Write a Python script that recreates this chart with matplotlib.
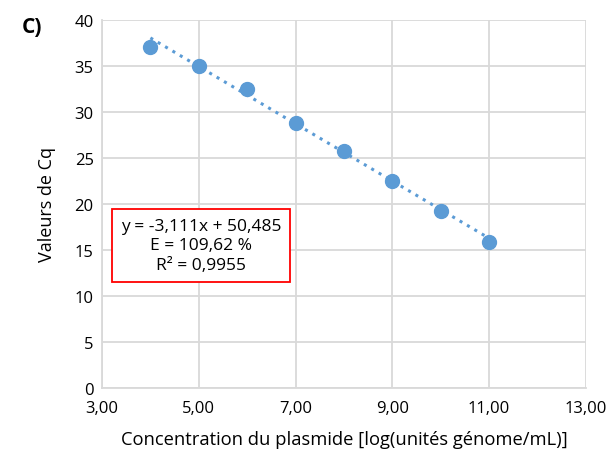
import numpy as np
import matplotlib
matplotlib.use('Agg')
import matplotlib.pyplot as plt

# data
log_conc = [4, 5, 6, 7, 8, 9, 10, 11]
cq = [37.1, 35.0, 32.5, 28.8, 25.8, 22.5, 19.2, 15.8]
slope, intercept = -3.111, 50.485
eq_lines = ['y = -3,111x + 50,485', 'E = 109,62 %', 'R² = 0,9955']
xticks = [3, 5, 7, 9, 11, 13]
xticklabels = ['3,00', '5,00', '7,00', '9,00', '11,00', '13,00']
yticks = [0, 5, 10, 15, 20, 25, 30, 35, 40]

plt.rcParams['font.family'] = ['Open Sans', 'DejaVu Sans']

fig = plt.figure(figsize=(6.16, 4.64), dpi=100)
ax = fig.add_axes([0.1656, 0.162, 0.7854, 0.793])

blue = '#5b9bd5'
grid = '#d9d9d9'

xs = np.array([log_conc[0], log_conc[-1]])
ax.plot(xs, slope*xs + intercept, ls=(0, (1, 1.8)), lw=2.2, color=blue, zorder=2)
ax.plot(log_conc, cq, 'o', ms=10, color=blue, zorder=3)

ax.set_xlim(3, 13)
ax.set_ylim(0, 40)
ax.set_xticks(xticks)
ax.set_xticklabels(xticklabels)
ax.set_yticks(yticks)
ax.grid(True, color=grid, lw=1.3)
ax.set_axisbelow(True)
for s in ['top', 'right']:
    ax.spines[s].set_visible(False)
for s in ['left', 'bottom']:
    ax.spines[s].set_color(grid)
    ax.spines[s].set_linewidth(1.3)
ax.tick_params(length=0, labelsize=12, pad=6)
ax.tick_params(axis='x', pad=9)

ax.set_xlabel('Concentration du plasmide [log(unités génome/mL)]', fontsize=13.2, labelpad=10)
ax.set_ylabel('Valeurs de Cq', fontsize=13, labelpad=13)

ax.text(5.05, 15.5, '\n'.join(eq_lines), ha='center', va='center', fontsize=12.5,
        linespacing=1.3,
        bbox=dict(boxstyle='square,pad=0.5', fc='white', ec='#ff0000', lw=1.3),
        zorder=5)

fig.text(0.035, 0.94, 'C)', fontsize=15, fontweight='bold', ha='left', va='center')

fig.savefig('out.png', dpi=100)
